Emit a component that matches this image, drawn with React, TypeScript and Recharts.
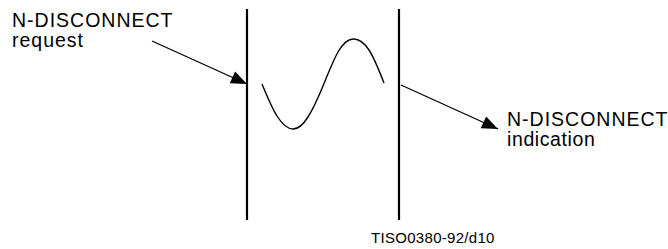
import React from "react";
import { LineChart, Line, XAxis, YAxis, Customized } from "recharts";

// diagram space: x 0..668, y 0..249 (y grows downward)
const leftBoundary = [
  { x: 247, y: 9 },
  { x: 247, y: 220 },
];
const rightBoundary = [
  { x: 399, y: 9 },
  { x: 399, y: 220 },
];
const requestArrow = [
  { x: 152, y: 41 },
  { x: 247, y: 84 },
];
const indicationArrow = [
  { x: 401, y: 85 },
  { x: 498, y: 129 },
];
const wave = [
  { x: 262, y: 84 },
  { x: 277, y: 116 },
  { x: 293, y: 129 },
  { x: 308, y: 117 },
  { x: 323, y: 86 },
  { x: 338, y: 52 },
  { x: 353, y: 39 },
  { x: 369, y: 50 },
  { x: 384, y: 83 },
];

const requestLabel = ["N-DISCONNECT", "request"];
const indicationLabel = ["N-DISCONNECT", "indication"];
const footer = "TISO0380-92/d10";

const txt = { fontFamily: "Liberation Sans", fill: "#000" };

// filled triangle at the last point of a two-point series
const arrowHead = (pts: { x: number; y: number }[]) => (props: any) => {
  const { cx, cy, index } = props;
  if (index !== pts.length - 1) return <g key={`d-${index}`} />;
  const a = pts[pts.length - 2];
  const b = pts[pts.length - 1];
  const ang = Math.atan2(b.y - a.y, b.x - a.x);
  const len = 16;
  const w = 6.5;
  const bx = cx - len * Math.cos(ang);
  const by = cy - len * Math.sin(ang);
  const px = -Math.sin(ang) * w;
  const py = Math.cos(ang) * w;
  return (
    <polygon
      key={`d-${index}`}
      points={`${cx},${cy} ${bx + px},${by + py} ${bx - px},${by - py}`}
      fill="#000"
      stroke="none"
    />
  );
};

const Labels = () => (
  <g>
    <text x={12} y={27} fontSize={19.5} letterSpacing={1} style={txt}>
      {requestLabel[0]}
    </text>
    <text x={12} y={47} fontSize={19.5} letterSpacing={1} style={txt}>
      {requestLabel[1]}
    </text>
    <text x={507} y={126} fontSize={19.5} letterSpacing={1} style={txt}>
      {indicationLabel[0]}
    </text>
    <text x={507} y={146} fontSize={19.5} letterSpacing={0.6} style={txt}>
      {indicationLabel[1]}
    </text>
    <text x={371} y={243} fontSize={15} letterSpacing={0.3} style={txt}>
      {footer}
    </text>
  </g>
);

const lineBase = {
  dataKey: "y",
  stroke: "#000",
  activeDot: false,
  isAnimationActive: false,
} as const;

export default function App() {
  return (
    <div
      style={{
        position: "absolute",
        left: 0,
        top: 0,
        width: 668,
        height: 249,
        background: "#fff",
        pointerEvents: "none",
      }}
    >
      <LineChart
        width={668}
        height={249}
        margin={{ top: 0, right: 0, bottom: 0, left: 0 }}
      >
        <XAxis type="number" dataKey="x" domain={[0, 668]} hide />
        <YAxis type="number" dataKey="y" domain={[0, 249]} reversed hide />

        <Line {...lineBase} data={leftBoundary} strokeWidth={2.2} dot={false} />
        <Line {...lineBase} data={rightBoundary} strokeWidth={2.2} dot={false} />
        <Line
          {...lineBase}
          data={requestArrow}
          strokeWidth={1.3}
          dot={arrowHead(requestArrow)}
        />
        <Line
          {...lineBase}
          data={indicationArrow}
          strokeWidth={1.3}
          dot={arrowHead(indicationArrow)}
        />
        <Line
          {...lineBase}
          data={wave}
          type="natural"
          strokeWidth={1.4}
          dot={false}
        />

        <Customized component={Labels} />
      </LineChart>
    </div>
  );
}
